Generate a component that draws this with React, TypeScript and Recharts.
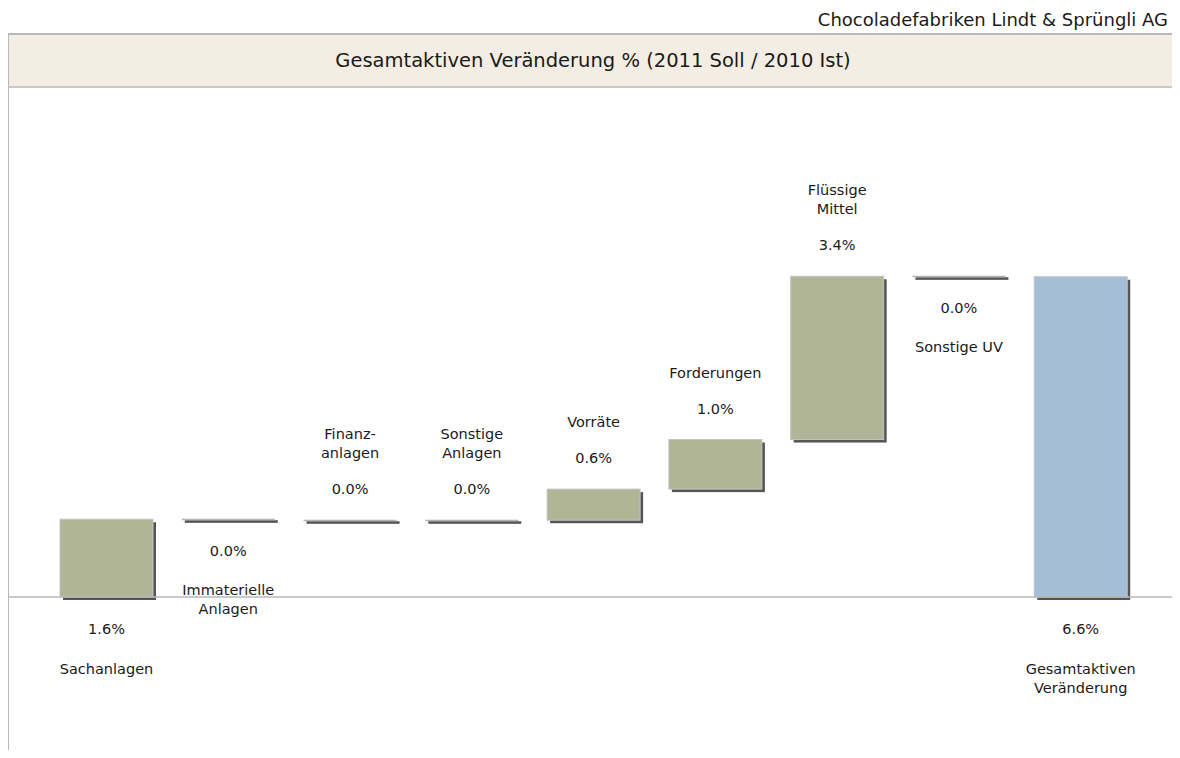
import React from 'react'
import { BarChart, Bar, XAxis, YAxis, ReferenceLine, LabelList } from 'recharts'

const categories = [
  'Sachanlagen',
  'Immaterielle\nAnlagen',
  'Finanz-\nanlagen',
  'Sonstige\nAnlagen',
  'Vorräte',
  'Forderungen',
  'Flüssige\nMittel',
  'Sonstige UV',
]
const deltas = [1.6, -0.02, 0.0, 0.0, 0.64, 1.02, 3.36, -0.01]
const totalLabel = 'Gesamtaktiven\nVeränderung'

const FONT = '"DejaVu Sans", Verdana, sans-serif'
const STEP_FILL = '#b0b596'
const TOTAL_FILL = '#a3bed6'

// waterfall: invisible base + visible step
let running = 0
const data = categories.map((name, i) => {
  const v = deltas[i]
  const start = running
  running += v
  return {
    name,
    value: v,
    base: Math.min(start, running),
    step: Math.abs(v),
    total: false,
    first: i === 0,
  }
})
data.push({ name: totalLabel, value: running, base: 0, step: running, total: true, first: false })

const fmt = (v: number) => (Math.round(v * 10) / 10).toFixed(1) + '%'

function ShadowBar(props: any) {
  const { x, y, width, payload } = props
  const h = Math.max(props.height, 1)
  const fill = payload.total ? TOTAL_FILL : STEP_FILL
  const off = Math.min(3, h)
  return (
    <g>
      <rect x={x + 3} y={y + off} width={width} height={h + (3 - off) * 0.8} fill="#555" />
      {h > 2 ? (
        <rect x={x} y={y} width={width} height={h} fill={fill} stroke="#c4c4c4" strokeWidth={1} />
      ) : (
        <rect x={x} y={y - 0.5} width={width} height={1.5} fill="#b4b4b4" />
      )}
    </g>
  )
}

function StepLabel(props: any) {
  const { x, y, width, height, index } = props
  const d = data[index]
  const cx = x + width / 2
  const lines = d.name.split('\n')
  const lh = 19
  let valueY: number
  let nameTop: number
  if (d.first || d.total) {
    const bottom = y + height
    valueY = bottom + 32
    nameTop = bottom + 72
  } else if (d.value < 0) {
    const bottom = y + Math.max(height, 1)
    valueY = bottom + 31
    nameTop = bottom + 70
  } else {
    valueY = y - 31
    nameTop = y - 67 - (lines.length - 1) * lh
  }
  return (
    <g fontFamily={FONT} fontSize={14.5} fill="#1a1a1a">
      <text x={cx} y={valueY} textAnchor="middle" dominantBaseline="central">
        {fmt(d.value)}
      </text>
      {lines.map((l: string, k: number) => (
        <text key={k} x={cx} y={nameTop + k * lh} textAnchor="middle" dominantBaseline="central">
          {l}
        </text>
      ))}
    </g>
  )
}

export default function App() {
  return (
    <div
      style={{
        position: 'relative',
        margin: -8,
        width: 1180,
        height: 758,
        overflow: 'hidden',
        fontFamily: FONT,
        background: '#fff',
      }}
    >
      <div
        style={{
          position: 'absolute',
          right: 12,
          top: 9,
          fontSize: 18,
          lineHeight: '22px',
          color: '#1a1a1a',
          whiteSpace: 'nowrap',
        }}
      >
        Chocoladefabriken Lindt &amp; Sprüngli AG
      </div>
      <div
        style={{
          position: 'absolute',
          left: 8,
          top: 33,
          width: 1169,
          height: 740,
          borderTop: '2px solid #b8b8b8',
          borderLeft: '1px solid #b8b8b8',
          borderRight: '1px solid #b8b8b8',
        }}
      />
      <div
        style={{
          position: 'absolute',
          left: 9,
          top: 35,
          width: 1168,
          height: 51,
          background: '#f3ede3',
          borderBottom: '2px solid #c8c8c8',
          display: 'flex',
          alignItems: 'center',
          justifyContent: 'center',
          fontSize: 19.5,
          color: '#1a1a1a',
        }}
      >
        Gesamtaktiven Veränderung % (2011 Soll / 2010 Ist)
      </div>
      <div style={{ position: 'absolute', left: 0, top: 0 }}>
        <BarChart
          width={1180}
          height={758}
          data={data}
          margin={{ top: 159.6, right: 38, bottom: 15.2, left: 46 }}
          barSize={93}
        >
          <XAxis dataKey="name" hide />
          <YAxis hide domain={[-3, 9]} type="number" allowDataOverflow />
          <ReferenceLine
            y={0}
            shape={(p: any) => (
              <line x1={9} x2={1177} y1={p.y1} y2={p.y1} stroke="#b8b8b8" strokeWidth={1.5} />
            )}
          />
          <Bar dataKey="base" stackId="w" fill="transparent" isAnimationActive={false} />
          <Bar dataKey="step" stackId="w" shape={<ShadowBar />} isAnimationActive={false}>
            <LabelList dataKey="step" content={<StepLabel />} />
          </Bar>
        </BarChart>
      </div>
    </div>
  )
}
